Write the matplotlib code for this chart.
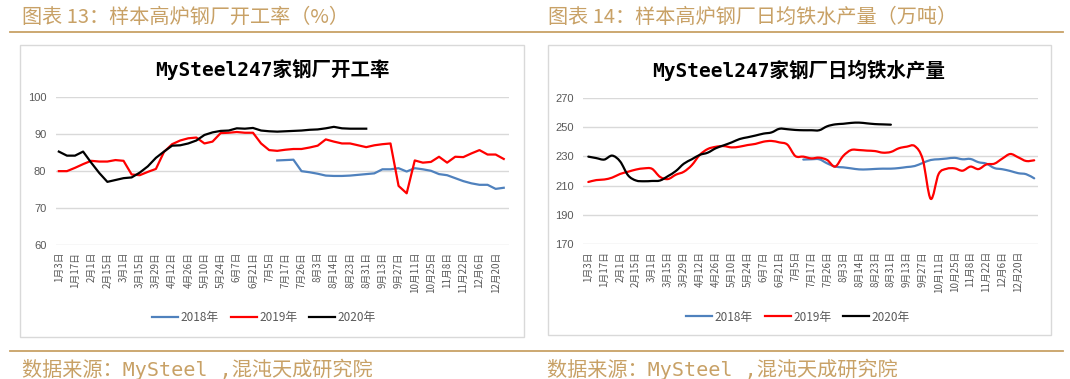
import numpy as np
import matplotlib
matplotlib.use("Agg")
import matplotlib.pyplot as plt
from matplotlib.path import Path
from matplotlib.patches import PathPatch, Rectangle
from matplotlib.lines import Line2D

plt.rcParams['font.family'] = ['Noto Sans CJK SC', 'DejaVu Sans']

W, H = 1070, 379
GOLD = '#C8A166'
GRAY = '#595959'
GRID = '#D9D9D9'
C2018, C2019, C2020 = '#4F81BD', '#FF0000', '#000000'

# x axis categories (every second week is labelled)
tick_labels = ['1月3日', '1月17日', '2月1日', '2月15日', '3月1日', '3月15日', '3月29日',
               '4月12日', '4月26日', '5月10日', '5月24日', '6月7日', '6月21日', '7月5日',
               '7月17日', '7月26日', '8月3日', '8月14日', '8月23日', '8月31日', '9月13日',
               '9月27日', '10月11日', '10月25日', '11月8日', '11月22日', '12月6日', '12月20日']
legend_labels = ['2018年', '2019年', '2020年']

# 开工率 (%)
rate_2018_start = 27
rate_2018 = [82.9, 83.0, 83.1, 80.0, 79.7, 79.3, 78.8, 78.7, 78.7, 78.8, 79.0, 79.2, 79.4,
             80.5, 80.5, 80.8, 79.9, 80.8, 80.5, 80.1, 79.2, 78.9, 78.1, 77.3, 76.7, 76.3,
             76.3, 75.2, 75.5]
rate_2019 = [80.0, 80.0, 80.9, 81.9, 82.8, 82.6, 82.6, 83.0, 82.8, 79.1, 78.9, 79.8, 80.6,
             85.2, 87.3, 88.3, 88.9, 89.1, 87.5, 88.0, 90.3, 90.4, 90.6, 90.4, 90.4, 87.5,
             85.7, 85.5, 85.8, 86.0, 86.0, 86.4, 86.9, 88.6, 88.0, 87.5, 87.5, 87.0, 86.5,
             87.0, 87.3, 87.5, 76.0, 74.0, 82.9, 82.3, 82.5, 83.9, 82.3, 83.9, 83.8, 84.8,
             85.7, 84.5, 84.5, 83.3]
rate_2020 = [85.3, 84.2, 84.2, 85.3, 82.3, 79.5, 77.1, 77.6, 78.1, 78.3, 79.6, 81.3, 83.6,
             85.3, 86.9, 87.0, 87.5, 88.3, 89.8, 90.5, 90.9, 91.0, 91.6, 91.5, 91.7, 91.0,
             90.8, 90.7, 90.8, 90.9, 91.0, 91.2, 91.3, 91.6, 92.0, 91.6, 91.5, 91.5, 91.5]

# 日均铁水产量 (万吨)
iron_2018_start = 27
iron_2018 = [227.8, 228.0, 228.0, 225.2, 223.0, 222.5, 221.8, 221.1, 221.1, 221.4, 221.6,
             221.6, 222.0, 222.7, 223.4, 225.5, 227.5, 228.0, 228.5, 229.0, 228.0, 228.2,
             226.0, 225.0, 222.0, 221.2, 220.0, 218.5, 217.8, 215.0]
iron_2019 = [212.5, 213.8, 214.2, 215.5, 218.0, 219.5, 221.0, 221.8, 221.5, 216.0, 214.5,
             217.5, 219.5, 224.0, 231.0, 235.0, 236.5, 237.0, 236.1, 236.6, 237.7, 238.5,
             240.0, 240.5, 239.5, 238.0, 230.2, 229.8, 228.6, 229.1, 227.5, 223.0, 230.2,
             234.3, 234.3, 233.9, 233.6, 232.5, 233.0, 235.5, 236.6, 237.0, 228.0, 201.0,
             218.0, 221.5, 221.8, 220.2, 223.0, 221.3, 224.5, 225.0, 228.5, 231.6, 229.3,
             226.8, 227.3]
iron_2020 = [229.8, 228.8, 227.8, 230.5, 226.5, 217.0, 213.5, 213.0, 213.2, 213.5, 216.5,
             220.0, 225.0, 228.0, 231.0, 232.5, 235.5, 237.5, 239.5, 241.8, 243.0, 244.2,
             245.5, 246.3, 248.8, 248.5, 248.0, 247.8, 247.8, 247.8, 250.5, 251.8, 252.2,
             252.8, 253.0, 252.5, 252.0, 251.8, 251.6]


def fx(px):
    return px / W


def fy(py):
    return 1 - py / H


def smooth_path(x, y):
    # Excel-like smoothed line: Catmull-Rom segments as cubic Bezier curves
    pts = np.column_stack([x, y])
    verts = [pts[0]]
    codes = [Path.MOVETO]
    n = len(pts)
    for i in range(n - 1):
        p0 = pts[max(i - 1, 0)]
        p1 = pts[i]
        p2 = pts[i + 1]
        p3 = pts[min(i + 2, n - 1)]
        verts += [p1 + (p2 - p0) / 6, p2 - (p3 - p1) / 6, p2]
        codes += [Path.CURVE4] * 3
    return Path(verts, codes)


def style_axes(ax, ylim, yticks, xlim, ntick_labels):
    ax.set_ylim(*ylim)
    ax.set_yticks(yticks)
    ax.set_xlim(*xlim)
    ax.set_xticks(np.arange(0, 2 * ntick_labels, 2))
    ax.set_xticklabels(tick_labels, rotation=90, fontsize=7, color=GRAY)
    ax.tick_params(axis='both', length=0)
    ax.tick_params(axis='x', pad=5)
    ax.tick_params(axis='y', pad=7, labelsize=8, labelcolor=GRAY)
    for lab in ax.get_yticklabels():
        lab.set_family(['Liberation Sans', 'DejaVu Sans'])
    for s in ax.spines.values():
        s.set_visible(False)
    ax.grid(axis='y', color=GRID, lw=1.0)
    ax.set_axisbelow(True)
    ax.patch.set_alpha(0)


fig = plt.figure(figsize=(W / 100, H / 100), dpi=100)

# page decoration: headers, rules, boxes, sources
fig.add_artist(Line2D([fx(10), fx(1063)], [fy(32.3), fy(32.3)], color=GOLD, lw=1.3))
fig.add_artist(Line2D([fx(10), fx(1063)], [fy(350.7), fy(350.7)], color=GOLD, lw=1.3))
fig.add_artist(Rectangle((fx(20), fy(337)), fx(504), 292 / H, fill=False,
                         edgecolor=GRID, lw=1.0))
fig.add_artist(Rectangle((fx(548), fy(335)), fx(503), 290 / H, fill=False,
                         edgecolor=GRID, lw=1.0))

fig.text(fx(22), fy(17), '图表 13：样本高炉钢厂开工率（%）', color=GOLD, fontsize=14.5,
         va='center', ha='left')
fig.text(fx(548), fy(17), '图表 14：样本高炉钢厂日均铁水产量（万吨）', color=GOLD,
         fontsize=14.5, va='center', ha='left')
src = '数据来源：MySteel ,混沌天成研究院'
fig.text(fx(22), fy(369), src, color=GOLD, fontsize=14.5, va='center', ha='left',
         family=['DejaVu Sans Mono', 'Noto Sans CJK SC'])
fig.text(fx(547), fy(369), src, color=GOLD, fontsize=14.5, va='center', ha='left',
         family=['DejaVu Sans Mono', 'Noto Sans CJK SC'])

# ---- left chart: 开工率
ax1 = fig.add_axes([fx(56), fy(245), fx(453), 147.7 / H])
ax1.plot(np.arange(rate_2018_start, rate_2018_start + len(rate_2018)), rate_2018,
         color=C2018, lw=1.6, label=legend_labels[0])
ax1.plot(np.arange(len(rate_2019)), rate_2019, color=C2019, lw=1.6, label=legend_labels[1])
ax1.plot(np.arange(len(rate_2020)), rate_2020, color=C2020, lw=1.6, label=legend_labels[2])
style_axes(ax1, (60, 100), [60, 70, 80, 90, 100], (-0.35, 55.65), len(tick_labels))
fig.text(fx(272), fy(70), 'MySteel247家钢厂开工率', fontsize=14, fontweight='bold',
         ha='center', va='center', family=['DejaVu Sans Mono', 'Noto Sans CJK SC'])
ax1.legend(loc='center', bbox_to_anchor=(fx(264), fy(318)), bbox_transform=fig.transFigure,
           ncol=3, frameon=False, fontsize=8.5, handlelength=2.2, handletextpad=0.2,
           columnspacing=1.0, labelcolor=GRAY)

# ---- right chart: 日均铁水产量 (smoothed lines)
ax2 = fig.add_axes([fx(583.3), fy(244.3), fx(454.4), 146.6 / H])
series = [
    (np.arange(iron_2018_start, iron_2018_start + len(iron_2018)), iron_2018, C2018),
    (np.arange(len(iron_2019)), iron_2019, C2019),
    (np.arange(len(iron_2020)), iron_2020, C2020),
]
for x, y, c in series:
    ax2.add_patch(PathPatch(smooth_path(x, np.asarray(y, float)), fill=False,
                            edgecolor=c, lw=1.6, capstyle='round', joinstyle='round'))
style_axes(ax2, (170, 270), [170, 190, 210, 230, 250, 270], (-0.63, 56.44), len(tick_labels))
fig.text(fx(799), fy(70), 'MySteel247家钢厂日均铁水产量', fontsize=14, fontweight='bold',
         ha='center', va='center', family=['DejaVu Sans Mono', 'Noto Sans CJK SC'])
handles = [Line2D([], [], color=c, lw=1.6) for c in (C2018, C2019, C2020)]
ax2.legend(handles, legend_labels, loc='center', bbox_to_anchor=(fx(798), fy(317)),
           bbox_transform=fig.transFigure, ncol=3, frameon=False, fontsize=8.5,
           handlelength=2.2, handletextpad=0.2, columnspacing=1.0, labelcolor=GRAY)

fig.savefig('out.png', dpi=100)
